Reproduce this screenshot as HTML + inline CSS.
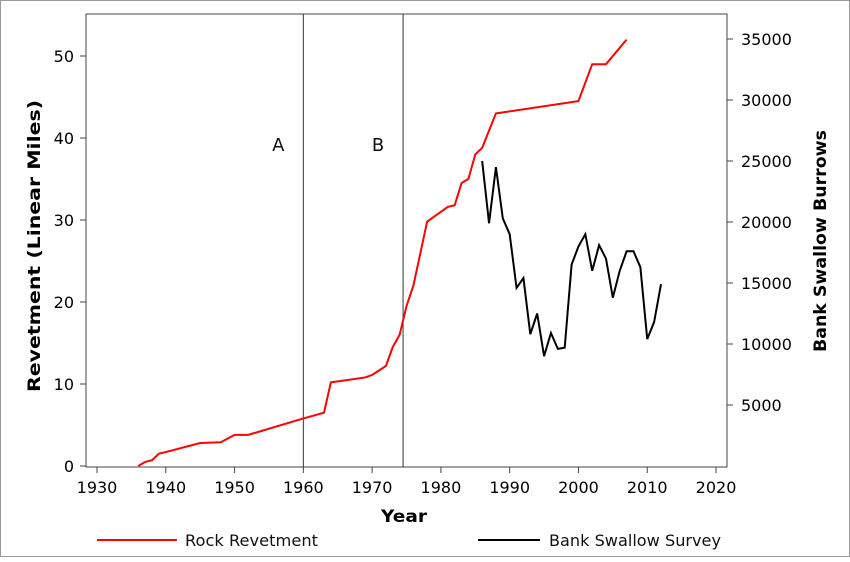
<!DOCTYPE html>
<html><head><meta charset="utf-8"><style>
body{margin:0;background:#fff;font-family:"Liberation Sans",sans-serif}
svg text{font-family:"DejaVu Sans","Liberation Sans",sans-serif}
</style></head><body>
<svg id="chart" width="850" height="557" xmlns="http://www.w3.org/2000/svg">
<rect x="0.5" y="0.5" width="849" height="556" fill="#fff" stroke="#999"/>
<g id="g"></g>
</svg>
<script>
const revYears=[1936,1937,1938,1939,1940,1945,1948,1950,1952,1960,1963,1964,1969,1970,1972,1973,1974,1975,1976,1978,1980,1981,1982,1983,1984,1985,1986,1988,2000,2002,2004,2007];
const revValues=[0,0.5,0.7,1.5,1.7,2.8,2.9,3.8,3.8,5.8,6.5,10.2,10.8,11.1,12.2,14.5,16,19.5,22,29.8,31,31.6,31.8,34.5,35,38,38.8,43,44.5,49,49,52];
const swYears=[1986,1987,1988,1989,1990,1991,1992,1993,1994,1995,1996,1997,1998,1999,2000,2001,2002,2003,2004,2005,2006,2007,2008,2009,2010,2011,2012];
const swValues=[25000,19900,24500,20300,19000,14600,15400,10800,12500,9000,10900,9600,9700,16500,18000,19000,16000,18100,17000,13800,16000,17600,17600,16300,10400,11800,14900];
const xTicks=[1930,1940,1950,1960,1970,1980,1990,2000,2010,2020];
const yLeftTicks=[0,10,20,30,40,50];
const yRightTicks=[5000,10000,15000,20000,25000,30000,35000];
const markers=[{year:1960,label:"A"},{year:1974.5,label:"B"}];

const L=86,R=727,T=14,B=467;
const x=v=>97+(v-1930)*6.878;
const yl=v=>466-v*8.2;
const yr=v=>466-v*0.0122;
const g=document.getElementById('g');
const NS='http://www.w3.org/2000/svg';
function mk(t,a,p){const e=document.createElementNS(NS,t);for(const k in a)e.setAttribute(k,a[k]);(p||g).appendChild(e);return e;}

const frame=mk('rect',{x:L,y:T,width:R-L,height:B-T,fill:'none',stroke:'#444','stroke-width':1});



xTicks.forEach(v=>{
 const t=mk('line',{x1:x(v),x2:x(v),y1:B,y2:B+6,stroke:'#444'});
 
 
 const l=mk('text',{x:x(v),y:493,'text-anchor':'middle','font-size':16,fill:'#000'});l.textContent=v;
 
 
});
yLeftTicks.forEach(v=>{
 const t=mk('line',{x1:L-6,x2:L,y1:yl(v),y2:yl(v),stroke:'#444'});
 
 
 const l=mk('text',{x:L-12,y:yl(v)+6,'text-anchor':'end','font-size':16,fill:'#000'});l.textContent=v;
 
 
});
yRightTicks.forEach(v=>{
 const t=mk('line',{x1:R,x2:R+6,y1:yr(v),y2:yr(v),stroke:'#444'});
 
 
 const l=mk('text',{x:R+14,y:yr(v)+6,'font-size':16,fill:'#000'});l.textContent=v;
 
 
});
markers.forEach(m=>{
 const ln=mk('line',{x1:x(m.year),x2:x(m.year),y1:T,y2:B,stroke:'#333'});
 
 
 const t=mk('text',{x:x(m.year)-25,y:151,'text-anchor':'middle','font-size':18,fill:'#111'});t.textContent=m.label;
 
 
});
const rp=mk('polyline',{points:revYears.map((v,i)=>x(v)+','+yl(revValues[i])).join(' '),fill:'none',stroke:'#f00','stroke-width':2});


const sp=mk('polyline',{points:swYears.map((v,i)=>x(v)+','+yr(swValues[i])).join(' '),fill:'none',stroke:'#000','stroke-width':2});



const xt=mk('text',{x:381,y:522,'font-size':17,'font-weight':'bold',fill:'#000',textLength:46,lengthAdjust:'spacingAndGlyphs'});xt.textContent='Year';


const ytl=mk('text',{x:0,y:0,'font-size':17,'font-weight':'bold',fill:'#000',textLength:292,lengthAdjust:'spacingAndGlyphs',transform:'translate(40 392) rotate(-90)'});ytl.textContent='Revetment (Linear Miles)';


const ytr=mk('text',{x:0,y:0,'font-size':17,'font-weight':'bold',fill:'#000',textLength:222,lengthAdjust:'spacingAndGlyphs',transform:'translate(826 352) rotate(-90)'});ytr.textContent='Bank Swallow Burrows';



const l1=mk('line',{x1:97,x2:177,y1:540,y2:540,stroke:'#f00','stroke-width':2});


const t1=mk('text',{x:185,y:546,'font-size':16,fill:'#111',textLength:133,lengthAdjust:'spacingAndGlyphs'});t1.textContent='Rock Revetment';


const l2=mk('line',{x1:478,x2:540,y1:540,y2:540,stroke:'#000','stroke-width':2});


const t2=mk('text',{x:549,y:546,'font-size':16,fill:'#111',textLength:172,lengthAdjust:'spacingAndGlyphs'});t2.textContent='Bank Swallow Survey';


</script>
</body></html>
